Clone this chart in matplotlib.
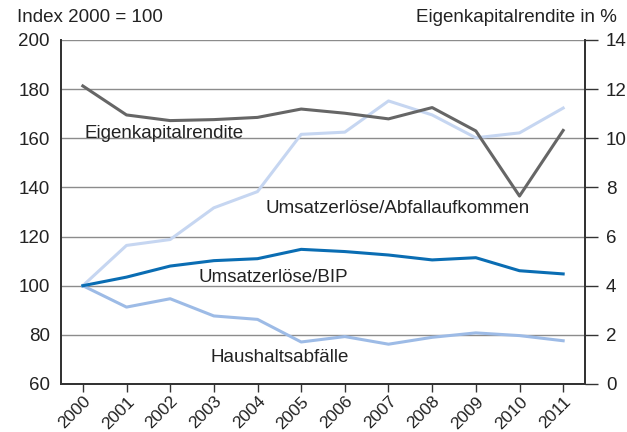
# Chart: Umsatzerlöse, Abfallaufkommen und Eigenkapitalrendite
import numpy as np
import matplotlib.pyplot as plt

plt.rcParams['font.family'] = ['Liberation Sans', 'DejaVu Sans']

# Daten
jahre = ['2000', '2001', '2002', '2003', '2004', '2005',
         '2006', '2007', '2008', '2009', '2010', '2011']
umsatz_abfall = [100, 116.4, 118.8, 131.7, 138.3, 161.6, 162.5, 175.2, 169.5, 160.2, 162.2, 172.3]
umsatz_bip = [100, 103.5, 108, 110.2, 111, 114.8, 113.9, 112.5, 110.5, 111.4, 106.1, 104.8]
haushaltsabfaelle = [100, 91.3, 94.7, 87.7, 86.3, 77.1, 79.3, 76.2, 79.0, 80.8, 79.7, 77.6]
eigenkapitalrendite = [12.13, 10.95, 10.72, 10.76, 10.85, 11.19, 11.02, 10.79, 11.25, 10.30, 7.65, 10.32]

x = np.arange(len(jahre))

fig = plt.figure(figsize=(6.27, 4.32), dpi=100)
ax = fig.add_axes([61 / 627, 1 - 384 / 432, (585 - 61) / 627, (384 - 40) / 432])
ax2 = ax.twinx()

# Gitterlinien
for v in range(80, 201, 20):
    ax.axhline(v, color='#8c8c8c', lw=1.0, zorder=0)

ax.plot(x, umsatz_abfall, color='#c6d6f1', lw=2.2, zorder=3)
ax.plot(x, haushaltsabfaelle, color='#9dbbe6', lw=2.2, zorder=3)
ax.plot(x, umsatz_bip, color='#0a6db3', lw=2.2, zorder=4)
ax2.plot(x, eigenkapitalrendite, color='#666666', lw=2.2, zorder=5)

ax.set_xlim(-0.5, 11.5)
ax.set_ylim(60, 200)
ax2.set_ylim(0, 14)
ax.set_yticks(range(60, 201, 20))
ax2.set_yticks(range(0, 15, 2))
ax.set_xticks(x)
ax.set_xticklabels(jahre, rotation=45, ha='right', va='top', rotation_mode='anchor')

for a in (ax, ax2):
    a.spines['top'].set_visible(False)
    for s in ('left', 'right', 'bottom'):
        a.spines[s].set_color('#333333')
        a.spines[s].set_linewidth(1.3)
    a.tick_params(labelsize=13.5, colors='#222222')

ax.tick_params(axis='y', length=0, pad=8)
ax.tick_params(axis='x', length=6, width=1, color='#333333', pad=1, labelsize=12.5)
ax2.tick_params(axis='y', length=9, width=1, color='#333333', pad=6)

# Beschriftungen
ax.text(1.85, 162, 'Eigenkapitalrendite', ha='center', va='center', fontsize=13.5, color='#222222', zorder=6)
ax.text(7.2, 131.6, 'Umsatzerlöse/Abfallaufkommen', ha='center', va='center', fontsize=13.5, color='#222222', zorder=6)
ax.text(4.37, 103.5, 'Umsatzerlöse/BIP', ha='center', va='center', fontsize=13.5, color='#222222', zorder=6)
ax.text(4.5, 70.6, 'Haushaltsabfälle', ha='center', va='center', fontsize=13.5, color='#222222', zorder=6)

fig.text(17 / 627, 1 - 17 / 432, 'Index 2000 = 100', ha='left', va='center', fontsize=13.5, color='#222222')
fig.text(617 / 627, 1 - 17 / 432, 'Eigenkapitalrendite in %', ha='right', va='center', fontsize=13.5, color='#222222')

fig.savefig('out.png', dpi=100)
